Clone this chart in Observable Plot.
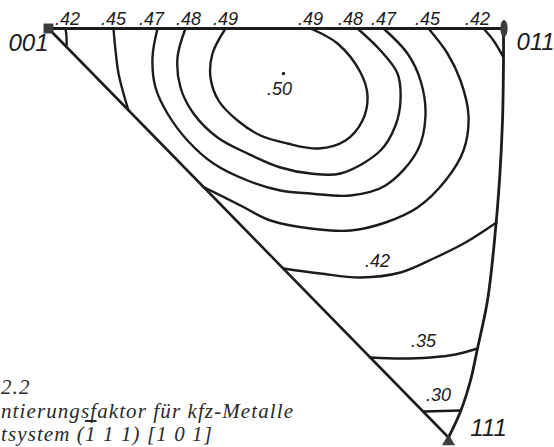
<!DOCTYPE html>
<html><head><meta charset="utf-8">
<script src="https://cdn.jsdelivr.net/npm/d3@7"></script>
<script src="https://cdn.jsdelivr.net/npm/@observablehq/plot@0.6"></script>
<style>
html,body{margin:0;padding:0;background:#fff;}
#wrap{position:relative;width:554px;height:447px;overflow:hidden;}
#caption{position:absolute;left:1px;top:376px;font-family:'Liberation Serif','Times New Roman',serif;font-style:italic;font-size:21px;letter-spacing:1.1px;line-height:23.5px;color:#2a2a2a;white-space:nowrap;}
#caption .bar{text-decoration:overline;}
</style></head><body>
<div id="wrap"><div id="chart"></div><div id="caption"></div></div>
<script>
// Stereographic triangle, figure units (001 pole at origin, y downward)
const poleNames = ["001", "011", "111"];
const poleX = [0, 45.55, 40.0];
const poleY = [0, 0, 41.3];
const poleLabelX = [-2.0, 48.7, 44.0];
const poleLabelY = [1.5, 1.35, 40.0];

// triangle edges
const edgeTop = [[0, 0], [45.5, 0]];
const edgeLeft = [[0, 0], [40.0, 40.9]];
const edgeRight = [[45.5, 0], [45.5, 3.2], [45.4, 9.2], [45.1, 15.2], [44.6, 21.2], [43.9, 27.2], [42.9, 32.0], [42.2, 35.2], [41.2, 38.3], [40.0, 40.9]];

// contour lines of the orientation factor
const c42left = [[1.7, 0], [1.8, 0.8], [1.8, 1.85]];
const c45left = [[6.5, 0], [6.7, 2.2], [7.0, 4.5], [7.5, 6.5], [8.0, 8.2]];
const c47 = [[10.9, 0], [10.4, 2.9], [10.7, 5.9], [11.9, 8.5], [13.9, 11.2], [16.5, 13.5], [19.9, 15.2], [23.2, 16.2], [26.2, 16.5], [30.2, 16.7], [33.7, 15.7], [36.9, 12.2], [37.7, 8.7], [37.2, 5.2], [35.9, 2.5], [33.5, 0]];
const c48 = [[13.7, 0], [12.9, 2.9], [13.2, 5.9], [14.5, 8.5], [16.9, 10.9], [19.9, 12.5], [23.2, 13.9], [26.2, 14.5], [29.2, 14.5], [33.2, 12.2], [34.7, 9.7], [35.2, 7.2], [34.9, 4.5], [33.2, 2.2], [30.9, 0]];
const c49 = [[17.7, 0], [16.4, 2.5], [16.2, 4.9], [17.0, 7.2], [18.9, 9.2], [21.2, 10.7], [23.9, 11.5], [27.0, 12.0], [29.7, 11.2], [31.4, 9.2], [31.9, 6.7], [31.2, 4.4], [28.9, 1.5], [26.2, 0]];
const c45right = [[38.0, 0], [39.9, 2.5], [41.2, 5.2], [42.0, 8.7], [41.5, 12.2], [39.7, 15.2], [36.9, 17.9], [33.7, 19.4], [30.2, 20.2], [26.2, 20.0], [22.2, 19.2], [19.2, 17.7], [15.5, 15.85]];
const c42corner = [[43.5, 0], [44.5, 1.2], [45.45, 2.8]];
const c42lower = [[23.5, 24.0], [27.2, 24.5], [31.2, 24.9], [35.2, 24.4], [38.5, 23.0], [41.7, 21.4], [44.8, 19.4]];
const c35 = [[32.2, 32.9], [35.2, 33.0], [38.2, 32.9], [40.7, 32.6], [42.9, 32.0]];
const c30 = [[37.5, 38.3], [41.2, 38.2]];

// labels at the upper edge
const topLabelText = [".42", ".45", ".47", ".48", ".49", ".49", ".48", ".47", ".45", ".42"];
const topLabelX = [1.9, 6.5, 10.3, 14.0, 17.7, 26.2, 30.2, 33.5, 37.9, 42.9];
const topLabelY = -0.95;

// labels inside the triangle
const innerLabelText = [".50", ".42", ".35", ".30"];
const innerLabelX = [23.1, 32.9, 37.5, 39.0];
const innerLabelY = [6.1, 23.3, 31.3, 36.7];
const maxPoint = [23.5, 4.5];

// caption (cut at the left edge in the original); third line: segments, the middle one barred
const captionLines = ["2.2", "ntierungsfaktor für kfz-Metalle"];
const captionBarred = ["tsystem (", "1", " 1 1) [1 0 1]"];

const pieces = [
  ["0.42 a", c42left], ["0.45 a", c45left], ["0.47", c47], ["0.48", c48], ["0.49", c49],
  ["0.45 b", c45right], ["0.42 b", c42corner], ["0.42 c", c42lower], ["0.35", c35], ["0.30", c30]
];
const contourRows = pieces.flatMap(([id, pts]) => pts.map(([x, y]) => ({id, x, y})));
const toRows = pts => pts.map(([x, y]) => ({x, y}));

const ink = "#1c1c1c";
const poleFill = "#3c3c3c";
const ovalSymbol = {
  draw(ctx) {
    const rx = 3.6, ry = 8.5, k = 0.5523;
    ctx.moveTo(0, -ry);
    ctx.bezierCurveTo(k * rx, -ry, rx, -k * ry, rx, 0);
    ctx.bezierCurveTo(rx, k * ry, k * rx, ry, 0, ry);
    ctx.bezierCurveTo(-k * rx, ry, -rx, k * ry, -rx, 0);
    ctx.bezierCurveTo(-rx, -k * ry, -k * rx, -ry, 0, -ry);
    ctx.closePath();
  }
};

const sans = "'Liberation Sans', Arial, sans-serif";
const plot = Plot.plot({
  width: 554, height: 447, margin: 0,
  x: {domain: [-4.8, 50.6], range: [0, 554], axis: null},
  y: {domain: [-2.8, 41.9], range: [0, 447], axis: null},
  marks: [
    Plot.line(contourRows, {x: "x", y: "y", z: "id", curve: "catmull-rom", stroke: ink, strokeWidth: 2.4}),
    Plot.line(toRows(edgeTop), {x: "x", y: "y", stroke: ink, strokeWidth: 2.8}),
    Plot.line(toRows(edgeLeft), {x: "x", y: "y", stroke: ink, strokeWidth: 2.6}),
    Plot.line(toRows(edgeRight), {x: "x", y: "y", curve: "catmull-rom", stroke: ink, strokeWidth: 2.8}),
    Plot.dot([0], {x: () => poleX[0], y: () => poleY[0], symbol: "square", r: 5.6, fill: poleFill, stroke: null}),
    Plot.dot([1], {x: () => poleX[1], y: () => poleY[1], symbol: ovalSymbol, r: 5, fill: poleFill, stroke: null}),
    Plot.dot([2], {x: () => poleX[2], y: () => poleY[2], symbol: "triangle", r: 4.8, fill: poleFill, stroke: null}),
    Plot.dot([maxPoint], {x: d => d[0], y: d => d[1], r: 1.7, fill: ink, stroke: null}),
    Plot.text(topLabelText, {x: (d, i) => topLabelX[i], y: () => topLabelY, text: d => d, fontFamily: sans, fontStyle: "italic", fontSize: 18, fill: ink, textAnchor: "middle"}),
    Plot.text(innerLabelText, {x: (d, i) => innerLabelX[i], y: (d, i) => innerLabelY[i], text: d => d, fontFamily: sans, fontStyle: "italic", fontSize: 18, fill: ink, textAnchor: "middle"}),
    Plot.text(poleNames, {x: (d, i) => poleLabelX[i], y: (d, i) => poleLabelY[i], text: d => d, fontFamily: sans, fontStyle: "italic", fontSize: 24, fill: ink, textAnchor: "middle"})
  ]
});
document.getElementById("chart").append(plot);

const cap = d3.select("#caption");
captionLines.forEach(s => cap.append("div").text(s));
const l3 = cap.append("div");
captionBarred.forEach((s, i) => l3.append("span").attr("class", i === 1 ? "bar" : null).text(s));
</script>
</body></html>
